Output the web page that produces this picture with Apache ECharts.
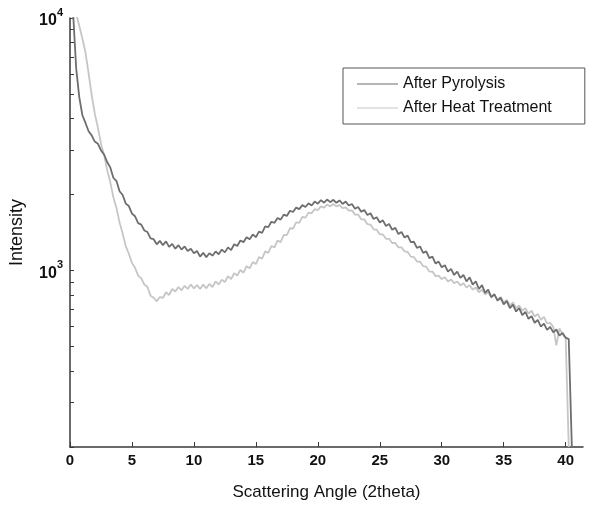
<!DOCTYPE html>
<html>
<head>
<meta charset="utf-8">
<script src="https://cdn.jsdelivr.net/npm/echarts@6/dist/echarts.min.js"></script>
<style>
  html, body { margin: 0; padding: 0; background: #fff; }
  #chart { width: 613px; height: 506px; }
</style>
</head>
<body>
<div id="chart"></div>
<script>
// Scattering angle (2theta), sampled every 0.25 degree
const angles = [
  0, 0.25, 0.5, 0.75, 1, 1.25, 1.5, 1.75, 2, 2.25, 2.5, 2.75, 3, 3.25, 3.5, 3.75,
  4, 4.25, 4.5, 4.75, 5, 5.25, 5.5, 5.75, 6, 6.25, 6.5, 6.75, 7, 7.25, 7.5, 7.75,
  8, 8.25, 8.5, 8.75, 9, 9.25, 9.5, 9.75, 10, 10.25, 10.5, 10.75, 11, 11.25, 11.5, 11.75,
  12, 12.25, 12.5, 12.75, 13, 13.25, 13.5, 13.75, 14, 14.25, 14.5, 14.75, 15, 15.25, 15.5, 15.75,
  16, 16.25, 16.5, 16.75, 17, 17.25, 17.5, 17.75, 18, 18.25, 18.5, 18.75, 19, 19.25, 19.5, 19.75,
  20, 20.25, 20.5, 20.75, 21, 21.25, 21.5, 21.75, 22, 22.25, 22.5, 22.75, 23, 23.25, 23.5, 23.75,
  24, 24.25, 24.5, 24.75, 25, 25.25, 25.5, 25.75, 26, 26.25, 26.5, 26.75, 27, 27.25, 27.5, 27.75,
  28, 28.25, 28.5, 28.75, 29, 29.25, 29.5, 29.75, 30, 30.25, 30.5, 30.75, 31, 31.25, 31.5, 31.75,
  32, 32.25, 32.5, 32.75, 33, 33.25, 33.5, 33.75, 34, 34.25, 34.5, 34.75, 35, 35.25, 35.5, 35.75,
  36, 36.25, 36.5, 36.75, 37, 37.25, 37.5, 37.75, 38, 38.25, 38.5, 38.75, 39, 39.25, 39.5, 39.75,
  40, 40.25, 40.5
];

// Intensity after pyrolysis
const pyrolysis = [
  null, 10500, 6300, 4850,
  4120, 3840, 3560, 3430,
  3240, 3180, 2990, 2880,
  2690, 2560, 2330, 2260,
  2060, 1990, 1840, 1800,
  1680, 1640, 1540, 1520,
  1440, 1420, 1340, 1330,
  1270, 1310, 1260, 1305,
  1240, 1275, 1220, 1260,
  1210, 1245, 1195, 1220,
  1170, 1195, 1135, 1175,
  1130, 1170, 1145, 1190,
  1160, 1210, 1180, 1235,
  1205, 1270, 1250, 1315,
  1295, 1355, 1330, 1390,
  1355, 1425, 1410, 1495,
  1485, 1560, 1545, 1615,
  1590, 1665, 1645, 1725,
  1705, 1775, 1750, 1815,
  1785, 1845, 1810, 1875,
  1840, 1900, 1855, 1910,
  1865, 1905, 1855, 1895,
  1835, 1875, 1810, 1835,
  1755, 1785, 1710, 1735,
  1660, 1685, 1600, 1625,
  1550, 1580, 1500, 1530,
  1450, 1475, 1395, 1420,
  1350, 1375, 1295, 1300,
  1230, 1245, 1175, 1190,
  1120, 1135, 1065, 1085,
  1030, 1050, 990, 1015,
  960, 990, 935, 960,
  905, 940, 880, 905,
  845, 875, 815, 840,
  785, 805, 760, 780,
  735, 757, 710, 733,
  688, 710, 666, 685,
  644, 660, 621, 637,
  600, 616, 582, 598,
  569, 584, 552, 566,
  542, 535, 200
];

// Intensity after heat treatment
const heatTreatment = [
  null, null, 10400, 9300,
  8300, 7300, 6050, 4950,
  4180, 3680, 3180, 2870,
  2500, 2240, 1950, 1770,
  1550, 1400, 1250, 1165,
  1070, 1025, 955, 930,
  880, 860, 795, 780,
  755, 785, 780, 820,
  800, 845, 825, 860,
  835, 870, 845, 880,
  850, 875, 845, 880,
  850, 885, 860, 905,
  880, 920, 900, 950,
  925, 975, 955, 1005,
  980, 1040, 1020, 1080,
  1060, 1130, 1115, 1190,
  1175, 1250, 1235, 1315,
  1295, 1385, 1380, 1470,
  1465, 1550, 1545, 1630,
  1620, 1695, 1685, 1750,
  1735, 1795, 1775, 1825,
  1795, 1835, 1795, 1815,
  1765, 1780, 1725, 1730,
  1665, 1665, 1595, 1595,
  1525, 1520, 1455, 1450,
  1390, 1390, 1335, 1335,
  1285, 1285, 1235, 1235,
  1190, 1185, 1135, 1130,
  1085, 1085, 1040, 1035,
  990, 990, 950, 955,
  925, 940, 905, 922,
  890, 905, 873, 890,
  857, 875, 840, 857,
  820, 840, 803, 820,
  783, 803, 765, 785,
  747, 765, 728, 747,
  709, 727, 693, 710,
  675, 693, 657, 673,
  637, 655, 617, 620,
  598, 505, 590, 560,
  540, 200, null
];

const seriesNames = ['After Pyrolysis', 'After Heat Treatment'];
const xTickValues = [0, 5, 10, 15, 20, 25, 30, 35, 40];
const yLabelValues = [1000, 10000];
const yTickValues = [200, 300, 400, 500, 600, 700, 800, 900,
  1000, 2000, 3000, 4000, 5000, 6000, 7000, 8000, 9000, 10000];

const FONT = '"Liberation Sans", Arial, sans-serif';
const AXIS_COLOR = '#3a3a3a';

function pairs(values) {
  return angles.map((a, i) => [a, values[i]]);
}

const chart = echarts.init(document.getElementById('chart'), null, { renderer: 'canvas' });

chart.setOption({
  animation: false,
  backgroundColor: '#ffffff',
  grid: { left: 70, right: 30, top: 18, bottom: 58, containLabel: false },
  legend: {
    orient: 'vertical',
    left: 343,
    top: 68,
    data: [
      { name: seriesNames[0], icon: 'path://M0,0 L41,0 L41,1.2 L0,1.2 Z' },
      { name: seriesNames[1], icon: 'path://M0,0 L41,0 L41,1.2 L0,1.2 Z' }
    ],
    itemWidth: 41,
    itemHeight: 15,
    itemGap: 8,
    padding: [8, 33, 8, 14],
    borderColor: '#555',
    borderWidth: 1,
    backgroundColor: '#fff',
    textStyle: { fontFamily: FONT, fontSize: 16, color: '#111' }
  },
  xAxis: {
    type: 'value',
    min: 0,
    max: 41.4,
    interval: 5,
    name: 'Scattering Angle (2theta)',
    nameLocation: 'middle',
    nameGap: 37,
    nameTextStyle: { fontFamily: FONT, fontSize: 17, color: '#111' },
    axisLine: { show: true, onZero: false, lineStyle: { color: AXIS_COLOR, width: 1.5 } },
    axisTick: { show: true, inside: true, length: 5, customValues: xTickValues,
      lineStyle: { color: AXIS_COLOR, width: 1 } },
    axisLabel: { customValues: xTickValues, margin: 6, fontFamily: FONT, fontSize: 15,
      fontWeight: 'bold', color: '#111' },
    splitLine: { show: false }
  },
  yAxis: {
    type: 'log',
    logBase: 10,
    min: 200,
    max: 10000,
    name: 'Intensity',
    nameLocation: 'middle',
    nameGap: 44,
    nameTextStyle: { fontFamily: FONT, fontSize: 18, color: '#111' },
    axisLine: { show: true, onZero: false, lineStyle: { color: AXIS_COLOR, width: 1.5 } },
    axisTick: { show: true, inside: true, length: 4, customValues: yTickValues,
      lineStyle: { color: AXIS_COLOR, width: 1 } },
    axisLabel: {
      customValues: yLabelValues,
      margin: 7,
      formatter: function (v) {
        const exp = Math.round(Math.log10(v));
        return '{b|10}{s|' + exp + '}';
      },
      rich: {
        b: { fontFamily: FONT, fontSize: 16, fontWeight: 'bold', color: '#111',
          lineHeight: 22, verticalAlign: 'bottom' },
        s: { fontFamily: FONT, fontSize: 11, fontWeight: 'bold', color: '#111',
          lineHeight: 13, verticalAlign: 'top' }
      }
    },
    splitLine: { show: false },
    minorSplitLine: { show: false }
  },
  series: [
    {
      name: seriesNames[1],
      type: 'line',
      data: pairs(heatTreatment),
      showSymbol: false,
      symbol: 'none',
      connectNulls: false,
      clip: true,
      color: '#c6c6c6',
      lineStyle: { color: '#c6c6c6', width: 1.8 },
      z: 2
    },
    {
      name: seriesNames[0],
      type: 'line',
      data: pairs(pyrolysis),
      showSymbol: false,
      symbol: 'none',
      connectNulls: false,
      clip: true,
      color: '#6e6e6e',
      lineStyle: { color: '#6e6e6e', width: 1.8 },
      z: 3
    }
  ]
});
</script>
</body>
</html>
